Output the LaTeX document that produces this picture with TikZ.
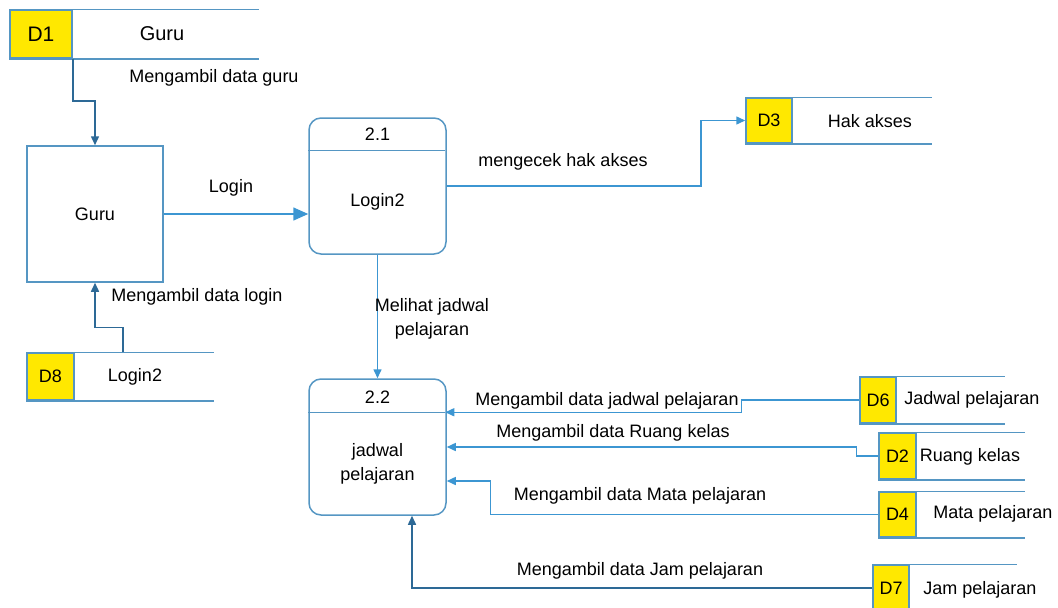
\documentclass[tikz,border=0pt]{standalone}
\usepackage{fontspec}
\setmainfont{Liberation Sans}
\usetikzlibrary{arrows.meta,calc}
\definecolor{box_blue}{RGB}{85,150,195}
\definecolor{edge_blue}{RGB}{60,150,210}
\definecolor{edge_dark}{RGB}{45,105,150}
\definecolor{store_yellow}{RGB}{255,232,0}

\begin{document}
\begin{tikzpicture}[x=1pt,y=-1pt,line width=1.5pt,font=\fontsize{18}{24}\selectfont]
    \tikzstyle{ent}=[draw=box_blue, rectangle, minimum width=136pt, minimum height=136pt, inner sep=0pt]
    \tikzstyle{proc}=[style=ent, rounded corners=12pt, minimum width=137pt]
    \tikzstyle{store}=[draw=box_blue, fill=store_yellow, inner sep=0pt, text=black]
    \tikzstyle{sline}=[draw=box_blue]
    \tikzstyle{flow}=[draw=edge_blue, -{Triangle[length=9pt,width=8pt]}]
    \tikzstyle{dflow}=[draw=edge_dark, -{Triangle[length=9pt,width=8pt]}]
    \tikzstyle{lbl}=[inner sep=0pt, text=black]

    \useasboundingbox (0,0) rectangle (1058,608);

    % data stores
    \node[store, minimum width=62pt, minimum height=48pt, font=\fontsize{21}{24}\selectfont] (d1) at (41,34) {D1};
    \node[lbl, font=\fontsize{20}{24}\selectfont] (d1t) at (162,34) {Guru};
    \draw[sline] (d1.north west) -- ++(250,0);
    \draw[sline] (d1.south west) -- ++(250,0);

    \node[store, minimum width=46pt, minimum height=45pt] (d3) at (769,120.5) {D3};
    \node[lbl] (d3t) at (870,121) {Hak akses};
    \draw[sline] (d3.north west) -- ++(187,0);
    \draw[sline] (d3.south west) -- ++(187,0);

    \node[store, minimum width=47pt, minimum height=47pt] (d8) at (50.5,376.5) {D8};
    \node[lbl] (d8t) at (135,377) {Login2};
    \draw[sline] (d8.north west) -- ++(188,0);
    \draw[sline] (d8.south west) -- ++(188,0);

    \node[store, minimum width=36pt, minimum height=46pt] (d6) at (878,400) {D6};
    \node[lbl] (d6t) at (972,400) {Jadwal pelajaran};
    \draw[sline] (d6.north west) -- ++(146,0);
    \draw[sline] (d6.south west) -- ++(146,0);

    \node[store, minimum width=37pt, minimum height=46pt] (d2) at (897.5,456) {D2};
    \node[lbl] (d2t) at (970,457) {Ruang kelas};
    \draw[sline] (d2.north west) -- ++(147,0);
    \draw[sline] (d2.south west) -- ++(147,0);

    \node[store, minimum width=37pt, minimum height=45pt] (d4) at (897.5,514.5) {D4};
    \node[lbl] (d4t) at (993,514) {Mata pelajaran};
    \draw[sline] (d4.north west) -- ++(147,0);
    \draw[sline] (d4.south west) -- ++(147,0);

    \node[store, minimum width=36pt, minimum height=46pt] (d7) at (891,588) {D7};
    \node[lbl] (d7t) at (980,590) {Jam pelajaran};
    \draw[sline] (d7.north west) -- ++(145,0);
    \draw[sline] (d7.south west) -- ++(145,0);

    % entity and processes
    \node[ent] (guru) at (95,214) {Guru};

    \node[proc] (p21) at (377.5,186) {};
    \draw[sline] (p21.north west) ++(0,33) coordinate (p21dw) -- ++(137,0) coordinate (p21de);
    \node[lbl] (p21n) at (377.5,134) {2.1};
    \node[lbl] (p21t) at (377.5,202) {Login2};

    \node[proc] (p22) at (377.5,447) {};
    \draw[sline] (p22.north west) ++(0,34) coordinate (p22dw) -- ++(137,0) coordinate (p22de);
    \node[lbl] (p22n) at (377.5,397) {2.2};
    \node[lbl, align=center] (p22t) at (377.5,464) {jadwal\\pelajaran};

    % flows
    \draw[dflow] (d1.south east) -- ++(0,42) -| (guru.north);
    \node[lbl] (l1) at (214,78) {Mengambil data guru};

    \draw[draw=edge_blue, -{Triangle[length=15pt,width=13pt]}] (guru.east) -- (guru.east -| p21.west);
    \node[lbl] (l2) at (231,188) {Login};

    \draw[flow] (p21.east) -- ++(254,0) |- (d3.west);
    \node[lbl] (l3) at (563,162) {mengecek hak akses};

    \draw[flow] (p21.south) -- (p22.north);
    \node[lbl, align=center] (l4) at (432,319) {Melihat jadwal\\pelajaran};

    \draw[dflow] (d8.north east) ++(48,0) -- ++(0,-25) -| (guru.south);
    \node[lbl] (l5) at (197,297) {Mengambil data login};

    \draw[flow] (d6.west) -- ++(-118,0) |- (p22de);
    \node[lbl] (l6) at (607,401) {Mengambil data jadwal pelajaran};

    \draw[flow] (d2.west) -- ++(-22,0) |- (p22.east);
    \node[lbl] (l7) at (613,433) {Mengambil data Ruang kelas};

    \draw[flow] (d4.west) -- ++(-388,0) |- ($(p22.east)+(0,34)$);
    \node[lbl] (l8) at (640,496) {Mengambil data Mata pelajaran};

    \draw[dflow] (d7.west) -| ($(p22.south)+(34.5,0)$);
    \node[lbl] (l9) at (640,571) {Mengambil data Jam pelajaran};
\end{tikzpicture}
\end{document}
